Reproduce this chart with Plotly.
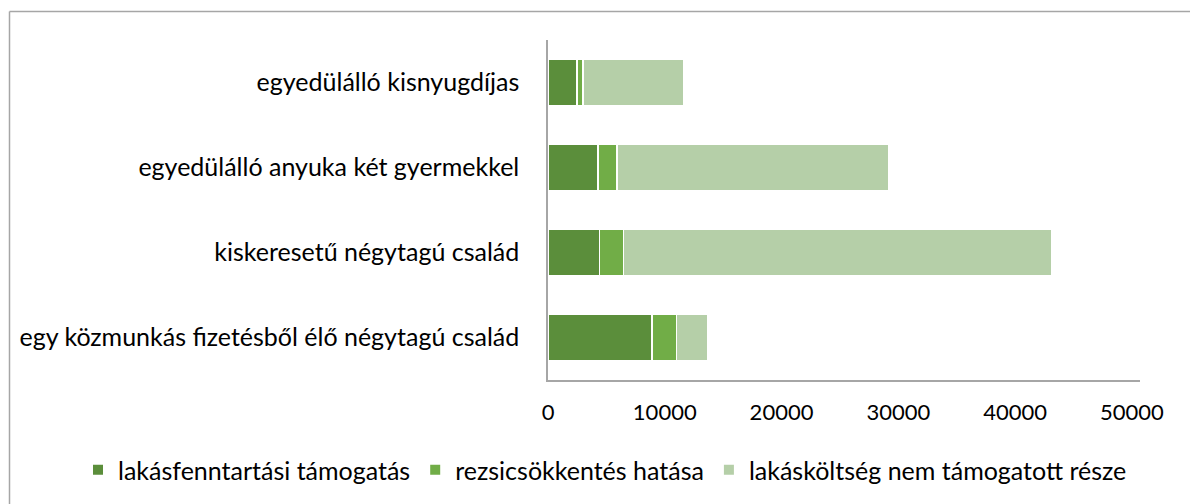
import plotly.graph_objects as go

categories = [
    "egyedülálló kisnyugdíjas",
    "egyedülálló anyuka két gyermekkel",
    "kiskeresetű négytagú család",
    "egy közmunkás fizetésből élő négytagú család",
]
series_names = [
    "lakásfenntartási támogatás",
    "rezsicsökkentés hatása",
    "lakásköltség nem támogatott része",
]
tamogatas = [2500, 4300, 4400, 8900]
rezsi = [500, 1600, 2050, 2100]
nem_tamogatott = [8600, 23300, 36700, 2700]
colors = ["#5B8E3B", "#71AD47", "#B5CFA8"]
x_ticks = [0, 10000, 20000, 30000, 40000, 50000]

W, H = 1190, 504
L, R, T, B = 548, 50, 40, 124
pw = W - L - R
ph = H - T - B

fig = go.Figure()
for name, vals, col in zip(series_names, [tamogatas, rezsi, nem_tamogatott], colors):
    fig.add_trace(go.Bar(
        y=categories, x=vals, name=name, orientation="h",
        marker=dict(color=col, line=dict(color="white", width=1.5)),
    ))

fam = "Lato, 'Liberation Sans Narrow', sans-serif"
font = dict(family=fam, size=25, color="#000000")


def px_x(p):
    return (p - L) / pw


def px_y(p):
    return (H - B - p) / ph


border = dict(color="#A6A6A6", width=1.5)
fig.update_layout(
    width=W, height=H, barmode="stack", bargap=0.45,
    margin=dict(l=L, r=R, t=T, b=B, autoexpand=False),
    plot_bgcolor="white", paper_bgcolor="white", font=font,
    showlegend=True,
    legend=dict(orientation="h", xref="paper", yref="paper",
                x=px_x(78), y=px_y(470), xanchor="left", yanchor="middle",
                font=dict(family=fam, size=25, color="#000000"),
                traceorder="normal", itemsizing="constant"),
    xaxis=dict(range=[0, 50700], tickvals=x_ticks, tickformat="d",
               showgrid=False, zeroline=False, automargin=False,
               showline=True, linecolor="#A6A6A6", linewidth=1.5, ticks="",
               ticklabelstandoff=12, tickfont=dict(family=fam, size=22, color="#000000")),
    yaxis=dict(autorange="reversed", showgrid=False, showline=True, automargin=False,
               linecolor="#A6A6A6", linewidth=1.5, ticks="", ticklabelstandoff=22),
    shapes=[
        dict(type="line", xref="paper", yref="paper",
             x0=px_x(9.5), x1=px_x(W + 5), y0=px_y(11.5), y1=px_y(11.5), line=border),
        dict(type="line", xref="paper", yref="paper",
             x0=px_x(9.5), x1=px_x(9.5), y0=px_y(11.5), y1=px_y(H + 5), line=border),
    ],
)
fig.write_html("out.html", config={"displayModeBar": False},
               post_script="document.body.style.margin='0';")
